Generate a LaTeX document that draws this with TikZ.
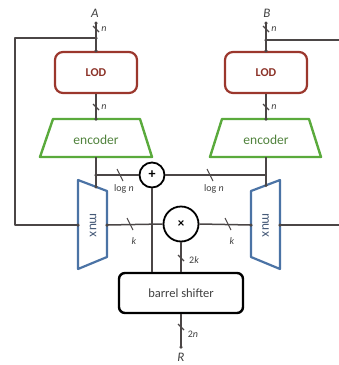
\documentclass[tikz,border=0pt]{standalone}
\usepackage{fontspec}
\setmainfont{Carlito}
\definecolor{wirec}{RGB}{75,70,70}
\definecolor{lodc}{RGB}{155,55,45}
\definecolor{lodt}{RGB}{140,50,40}
\definecolor{encc}{RGB}{90,170,60}
\definecolor{enct}{RGB}{80,130,60}
\definecolor{muxc}{RGB}{75,115,165}
\definecolor{muxt}{RGB}{70,90,120}
\begin{document}
\begin{tikzpicture}[x=1pt,y=-1pt,line join=round,
  wire/.style={draw=wirec,line width=1.5pt},
  tick/.style={draw=wirec,line width=1.1pt},
  dotc/.style={fill=wirec,circle,inner sep=0pt,minimum size=3.5pt},
  lodbox/.style={draw=lodc,line width=2.2pt,rounded corners=8pt,minimum width=82pt,minimum height=41pt,
    font=\fontsize{12}{14}\selectfont\bfseries,text=lodt,inner sep=0pt},
  encshape/.style={draw=encc,line width=2.4pt},
  enctext/.style={font=\fontsize{13.5}{15}\selectfont,text=enct,inner sep=0pt},
  muxshape/.style={draw=muxc,line width=2.2pt},
  muxtext/.style={font=\fontsize{13.5}{15}\selectfont,text=muxt,inner sep=0pt,rotate=-90},
  opc/.style={draw=black,line width=1.8pt,circle,inner sep=0pt},
  bsbox/.style={draw=black,line width=2.4pt,rounded corners=6pt,minimum width=124pt,minimum height=40pt,
    font=\fontsize{12.5}{14}\selectfont,text=black!75,inner sep=0pt},
  lbl/.style={font=\fontsize{10}{11}\selectfont\itshape,text=black!75,inner sep=0pt},
  io/.style={font=\fontsize{13}{14}\selectfont\itshape,text=black!75,inner sep=0pt}]
\useasboundingbox (0,0) rectangle (339,365);

% inputs / output labels
\node[io] (A) at (95,13) {A};
\node[io] (B) at (267,13) {B};
\node[io] (R) at (181,357) {R};
\coordinate (Ain) at (96,23);
\coordinate (Bin) at (266,23);
\coordinate (Rout) at (181,347);

% LOD boxes
\node[lodbox] (lodA) at (96,72.5) {LOD};
\node[lodbox] (lodB) at (266,72.5) {LOD};

% encoders
\draw[encshape] (53,119) -- (140,119) -- (152,157) -- (40,157) -- cycle;
\draw[encshape] (222,119) -- (309,119) -- (321,157) -- (210,157) -- cycle;
\node[enctext] (encA) at (96,140) {encoder};
\node[enctext] (encB) at (266,140) {encoder};
\coordinate (encAt) at (96,119);
\coordinate (encAb) at (96,157);
\coordinate (encBt) at (266,119);
\coordinate (encBb) at (266,157);

% muxes
\draw[muxshape] (78,180) -- (107,191) -- (107,257) -- (78,269) -- cycle;
\draw[muxshape] (251,191) -- (280,180) -- (280,269) -- (251,257) -- cycle;
\node[muxtext] (muxA) at (93,225) {mux};
\node[muxtext] (muxB) at (265.5,225) {mux};
\coordinate (muxAt) at (96,186.8);
\coordinate (muxAl) at (78,225);
\coordinate (muxAr) at (107,225);
\coordinate (muxBt) at (266,185.3);
\coordinate (muxBl) at (251,225);
\coordinate (muxBr) at (280,225);

% operators
\node[opc,minimum size=25pt] (plus) at (152,175) {};
\node[font=\fontsize{14}{14}\selectfont\bfseries,inner sep=0pt] (plusS) at (152,174.5) {+};
\node[opc,minimum size=35pt] (times) at (181,224) {};
\node[font=\fontsize{13}{13}\selectfont\bfseries,inner sep=0pt] (timesS) at (181,224) {×};

% barrel shifter
\node[bsbox] (bs) at (181,293) {barrel shifter};

% junctions and edge coordinates
\coordinate (jA) at (96,38);
\coordinate (jB) at (266,40);
\coordinate (fbA1) at (15,38);
\coordinate (fbA2) at (15,225);
\coordinate (fbB) at (339,40);
\coordinate (outB) at (339,225);
\coordinate (jE) at (96,175);
\coordinate (jEB) at (266,175);

% wires left column
\draw[wire] (Ain) -- (lodA.north);
\draw[wire] (jA) -- (fbA1) -- (fbA2) -- (muxAl);
\draw[wire] (lodA.south) -- (encAt);
\draw[wire] (encAb) -- (muxAt);
\draw[wire] (jE) -- (plus.west);
% wires right column
\draw[wire] (Bin) -- (lodB.north);
\draw[wire] (jB) -- (fbB);
\draw[wire] (lodB.south) -- (encBt);
\draw[wire] (encBb) -- (muxBt);
\draw[wire] (plus.east) -- (jEB);
\draw[wire] (muxBr) -- (outB);
% center
\draw[wire] (muxAr) -- (times.west);
\draw[wire] (times.east) -- (muxBl);
\draw[wire] (plus.south) -- (plus.south |- bs.north);
\draw[wire] (times.south) -- (times.south |- bs.north);
\draw[wire] (bs.south) -- (Rout);

% dots
\foreach \p in {Ain,Bin,jA,jB,lodA.north,lodB.north,encAt,encBt,muxAt,muxBt,muxAl,muxAr,muxBl,muxBr,jE,Rout}
  \node[dotc] at (\p) {};

% bus width ticks
\draw[tick] (93,26) -- (99,32);
\draw[tick] (263,26) -- (269,32);
\draw[tick] (93,104) -- (99,110);
\draw[tick] (263,104) -- (269,110);
\draw[tick] (117,169) -- (123,181);
\draw[tick] (207,169) -- (213,181);
\draw[tick] (127,218) -- (133,230);
\draw[tick] (225,218) -- (231,230);
\draw[tick] (178,255) -- (184,261);
\draw[tick] (178,324) -- (184,330);

% bus width labels
\node[lbl] (lA) at (104,29) {n};
\node[lbl] (lB) at (274,29) {n};
\node[lbl] (lA2) at (104,107) {n};
\node[lbl] (lB2) at (274,107) {n};
\node[lbl] (lg1) at (124,189) {\upshape log \itshape n};
\node[lbl] (lg2) at (214,189) {\upshape log \itshape n};
\node[lbl] (k1) at (134,241) {k};
\node[lbl] (k2) at (232,241) {k};
\node[lbl] (k3) at (194,260) {\upshape 2\itshape k};
\node[lbl] (n3) at (193,334) {\upshape 2\itshape n};
\end{tikzpicture}
\end{document}
